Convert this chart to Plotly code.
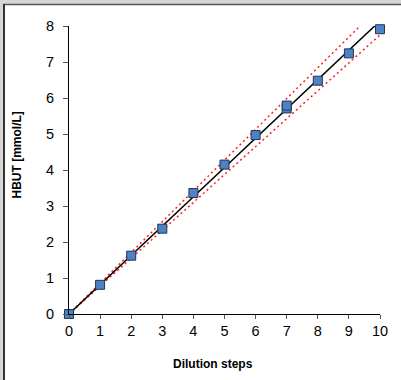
import plotly.graph_objects as go

# Data
dilution_steps = [0, 1, 2, 3, 4, 5, 6, 7, 7, 8, 9, 10]
hbut_values = [0.0, 0.81, 1.62, 2.37, 3.36, 4.15, 4.97, 5.71, 5.79, 6.48, 7.24, 7.91]
line_x = [0, 10]
slope_fit = 0.814
slope_upper = 0.855
slope_lower = 0.775
x_ticks = list(range(0, 11))
y_ticks = list(range(0, 9))

W, H = 401, 380
L, R, T, B = 69, 21, 26, 66
pw, ph = W - L - R, H - T - B


def px(x):
    return (x - L) / pw


def py(y):
    return (H - B - y) / ph


fig = go.Figure()

fig.add_trace(go.Scatter(x=line_x, y=[slope_upper * v for v in line_x], mode="lines",
                         line=dict(color="#ff2020", width=1.5, dash="2px,3px"),
                         showlegend=False, hoverinfo="skip"))
fig.add_trace(go.Scatter(x=line_x, y=[slope_lower * v for v in line_x], mode="lines",
                         line=dict(color="#ff2020", width=1.5, dash="2px,3px"),
                         showlegend=False, hoverinfo="skip"))
fig.add_trace(go.Scatter(x=line_x, y=[slope_fit * v for v in line_x], mode="lines",
                         line=dict(color="black", width=1.5),
                         showlegend=False, hoverinfo="skip"))
fig.add_trace(go.Scatter(x=dilution_steps, y=hbut_values, mode="markers",
                         marker=dict(symbol="square", size=9, color="#4f81c7",
                                     line=dict(color="#1f3552", width=1)),
                         cliponaxis=False, showlegend=False))

shapes = [
    # white panel over the grey paper, leaving a grey frame on the top and left
    dict(type="rect", xref="paper", yref="paper", x0=px(3), x1=px(W + 10), y0=py(4), y1=py(H + 10),
         fillcolor="white", line=dict(width=0), layer="below"),
    dict(type="line", xref="paper", yref="paper", x0=px(3), x1=px(W + 10), y0=py(4.5), y1=py(4.5),
         line=dict(color="#555555", width=1.5), layer="above"),
    dict(type="line", xref="paper", yref="paper", x0=px(4), x1=px(4), y0=py(4), y1=py(H + 10),
         line=dict(color="#333333", width=2), layer="above"),
]

annotations = [
    dict(text="<b>Dilution steps</b>", xref="paper", yref="paper", x=px(212.5), y=py(364),
         showarrow=False, font=dict(family="Liberation Sans, Arial", size=12, color="black"),
         xanchor="center", yanchor="middle"),
    dict(text="<b>HBUT [mmol/L]</b>", xref="paper", yref="paper", x=px(16.5), y=py(155),
         showarrow=False, textangle=-90,
         font=dict(family="Liberation Sans, Arial", size=12, color="black"),
         xanchor="center", yanchor="middle"),
]

fig.update_layout(
    width=W, height=H,
    margin=dict(l=L, r=R, t=T, b=B),
    paper_bgcolor="#d6d6d6", plot_bgcolor="white",
    font=dict(family="Liberation Sans, Arial", size=14, color="black"),
    shapes=shapes, annotations=annotations,
    xaxis=dict(range=[0, 10], tickvals=x_ticks, showgrid=False, zeroline=False,
               showline=True, linecolor="black", linewidth=1,
               ticks="outside", ticklen=4, tickcolor="#555555",
               tickfont=dict(size=14.5)),
    yaxis=dict(range=[0, 8], tickvals=y_ticks, showgrid=False, zeroline=False,
               showline=True, linecolor="black", linewidth=1,
               ticks="outside", ticklen=5, tickcolor="#555555",
               tickfont=dict(size=14.5), ticklabelstandoff=6),
)

fig.write_html("out.html", config={"displayModeBar": False},
               post_script="document.body.style.margin='0';")
